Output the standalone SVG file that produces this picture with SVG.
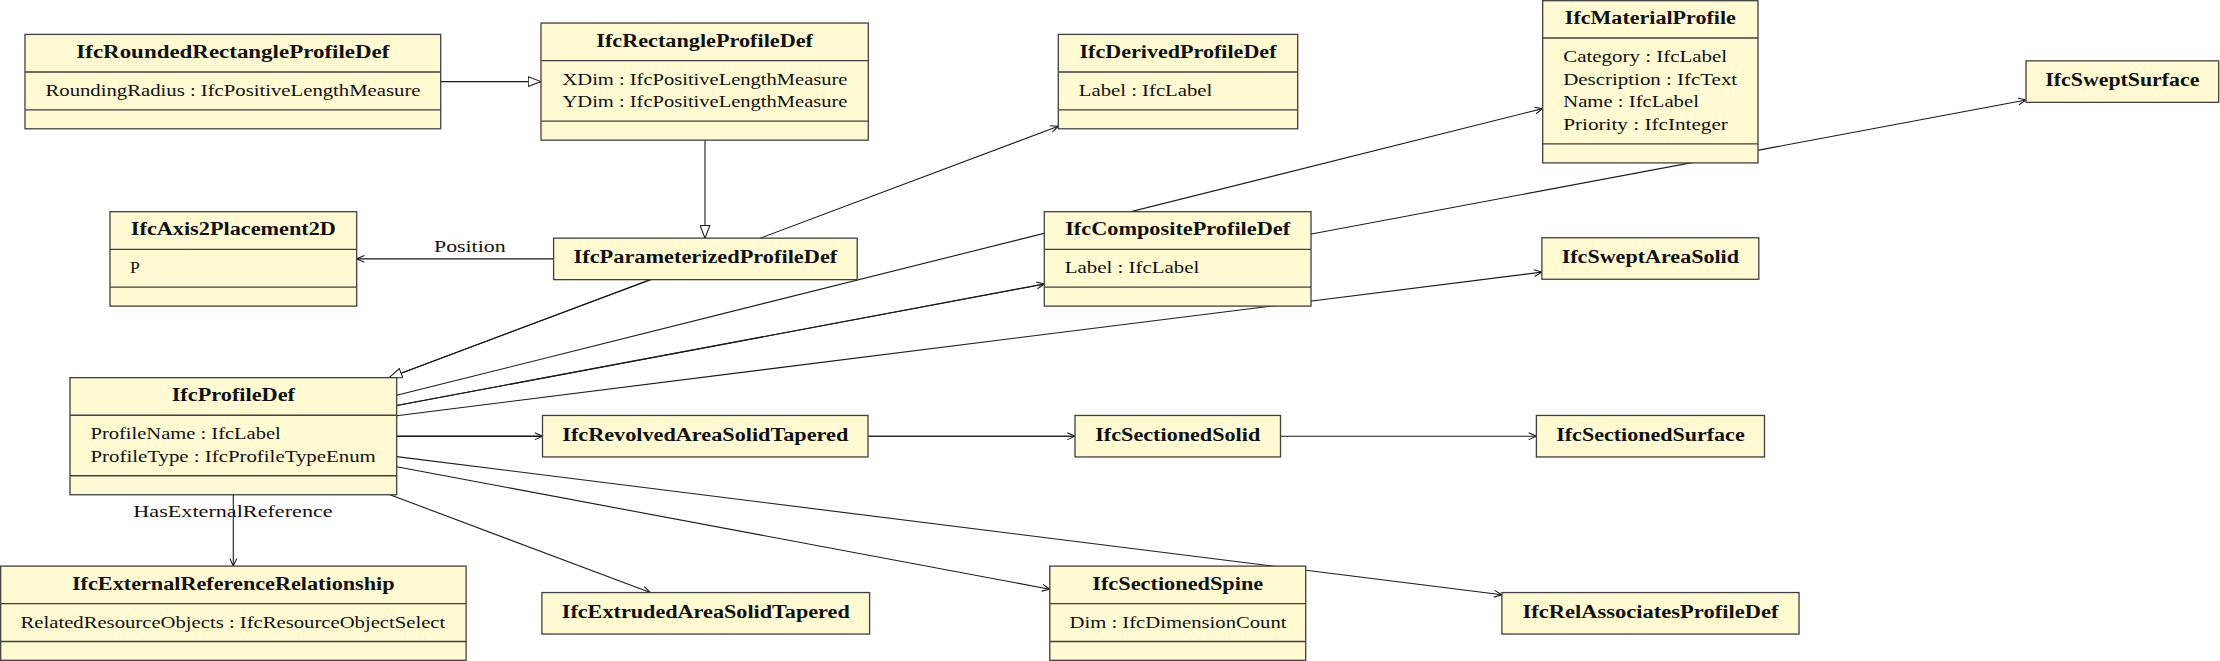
<svg xmlns="http://www.w3.org/2000/svg" width="2220" height="661" viewBox="0 0 2220 661">
<style>
.box{fill:#FFFAD2;stroke:#404040;stroke-width:1.3}
.dv{stroke:#404040;stroke-width:1.3}
.h{font-family:"Liberation Serif",serif;font-weight:bold;font-size:18.5px;text-anchor:middle;fill:#111}
.a{font-family:"Liberation Serif",serif;font-size:17.5px;fill:#111}
.lb{font-family:"Liberation Serif",serif;font-size:17.5px;fill:#111;text-anchor:middle}
.c{fill:none;stroke:#1a1a1a;stroke-width:1.1}
.o{marker-end:url(#open)}
.g{marker-end:url(#tri)}
</style>
<defs>
<marker id="open" viewBox="0 0 10 10" refX="9.6" refY="5" markerWidth="9" markerHeight="9" markerUnits="userSpaceOnUse" orient="auto">
<path d="M1,1.2 L9.6,5 L1,8.8" fill="none" stroke="#1a1a1a" stroke-width="1.2"/>
</marker>
<marker id="tri" viewBox="0 0 14 11" refX="13.4" refY="5.5" markerWidth="14" markerHeight="11" markerUnits="userSpaceOnUse" orient="auto">
<path d="M0.6,0.6 L13.4,5.5 L0.6,10.4 Z" fill="#fff" stroke="#1a1a1a" stroke-width="1.1"/>
</marker>
</defs>

<g id="connectors">
<path class="c g" d="M440.7,81.6 L541,81.6"/>
<path class="c g" d="M705,140.15 L705,238.15"/>
<path class="c o" d="M553.6,258.9 L356.7,258.9"/>
<text class="lb" x="469.8" y="251.7" textLength="71.6" lengthAdjust="spacingAndGlyphs">Position</text>
<path class="c o" d="M389.1,377.65 L1058.3,126.2"/>
<path class="c g" d="M650.8,279.65 L389.1,377.65"/>
<path class="c o" d="M396.7,395.3 L1542.7,108.6"/>
<path class="c o" d="M396.7,405.5 L1044.3,284"/>
<path class="c o" d="M396.7,405.5 L2026,100"/>
<path class="c o" d="M396.7,415.7 L1541.9,272.1"/>
<path class="c o" d="M396.7,436.2 L542.5,436.2"/>
<path class="c o" d="M396.7,436.2 L1075,436.2"/>
<path class="c o" d="M396.7,436.2 L1536.4,436.2"/>
<path class="c o" d="M396.7,466.8 L1049.8,589.2"/>
<path class="c o" d="M396.7,456.6 L1501.9,594.7"/>
<path class="c o" d="M390,494.75 L650.3,592.55"/>
<path class="c o" d="M233.3,494.75 L233.3,566.1"/>
<text class="lb" x="233" y="516.7" textLength="199.4" lengthAdjust="spacingAndGlyphs">HasExternalReference</text>
</g>

<g id="IfcRoundedRectangleProfileDef">
<rect class="box" x="25" y="34.4" width="415.7" height="94.4"/>
<line class="dv" x1="25" y1="72" x2="440.7" y2="72"/>
<line class="dv" x1="25" y1="109.8" x2="440.7" y2="109.8"/>
<text class="h" x="232.85" y="58" textLength="313" lengthAdjust="spacingAndGlyphs">IfcRoundedRectangleProfileDef</text>
<text class="a" x="45.5" y="96" textLength="375" lengthAdjust="spacingAndGlyphs">RoundingRadius : IfcPositiveLengthMeasure</text>
</g>

<g id="IfcRectangleProfileDef">
<rect class="box" x="541" y="23.05" width="327.3" height="117.1"/>
<line class="dv" x1="541" y1="60.65" x2="868.3" y2="60.65"/>
<line class="dv" x1="541" y1="121.15" x2="868.3" y2="121.15"/>
<text class="h" x="704.65" y="46.6" textLength="216.7" lengthAdjust="spacingAndGlyphs">IfcRectangleProfileDef</text>
<text class="a" x="562.5" y="84.6" textLength="285" lengthAdjust="spacingAndGlyphs">XDim : IfcPositiveLengthMeasure</text>
<text class="a" x="562.5" y="107.3" textLength="285" lengthAdjust="spacingAndGlyphs">YDim : IfcPositiveLengthMeasure</text>
</g>

<g id="IfcDerivedProfileDef">
<rect class="box" x="1058.3" y="34.4" width="239.4" height="94.4"/>
<line class="dv" x1="1058.3" y1="72" x2="1297.7" y2="72"/>
<line class="dv" x1="1058.3" y1="109.8" x2="1297.7" y2="109.8"/>
<text class="h" x="1178" y="58" textLength="197" lengthAdjust="spacingAndGlyphs">IfcDerivedProfileDef</text>
<text class="a" x="1078.8" y="96" textLength="133.5" lengthAdjust="spacingAndGlyphs">Label : IfcLabel</text>
</g>

<g id="IfcMaterialProfile">
<rect class="box" x="1542.7" y="0.7" width="215.3" height="162.2"/>
<line class="dv" x1="1542.7" y1="38" x2="1758" y2="38"/>
<line class="dv" x1="1542.7" y1="143.9" x2="1758" y2="143.9"/>
<text class="h" x="1650.35" y="24" textLength="171" lengthAdjust="spacingAndGlyphs">IfcMaterialProfile</text>
<text class="a" x="1563.2" y="62" textLength="164" lengthAdjust="spacingAndGlyphs">Category : IfcLabel</text>
<text class="a" x="1563.2" y="84.7" textLength="174" lengthAdjust="spacingAndGlyphs">Description : IfcText</text>
<text class="a" x="1563.2" y="107.4" textLength="135.7" lengthAdjust="spacingAndGlyphs">Name : IfcLabel</text>
<text class="a" x="1563.2" y="130.1" textLength="164.7" lengthAdjust="spacingAndGlyphs">Priority : IfcInteger</text>
</g>

<g id="IfcSweptSurface">
<rect class="box" x="2026" y="60.85" width="192.7" height="41.5"/>
<text class="h" x="2122.35" y="86.1" textLength="154" lengthAdjust="spacingAndGlyphs">IfcSweptSurface</text>
</g>

<g id="IfcAxis2Placement2D">
<rect class="box" x="110" y="211.7" width="246.7" height="94.4"/>
<line class="dv" x1="110" y1="249.3" x2="356.7" y2="249.3"/>
<line class="dv" x1="110" y1="287.1" x2="356.7" y2="287.1"/>
<text class="h" x="233.35" y="235.3" textLength="205" lengthAdjust="spacingAndGlyphs">IfcAxis2Placement2D</text>
<text class="a" x="130" y="273.3">P</text>
</g>

<g id="IfcParameterizedProfileDef">
<rect class="box" x="553.6" y="238.15" width="303.6" height="41.5"/>
<text class="h" x="705.4" y="263.4" textLength="263.7" lengthAdjust="spacingAndGlyphs">IfcParameterizedProfileDef</text>
</g>

<g id="IfcCompositeProfileDef">
<rect class="box" x="1044.3" y="211.7" width="266.7" height="94.4"/>
<line class="dv" x1="1044.3" y1="249.3" x2="1311" y2="249.3"/>
<line class="dv" x1="1044.3" y1="287.1" x2="1311" y2="287.1"/>
<text class="h" x="1177.65" y="235.3" textLength="225" lengthAdjust="spacingAndGlyphs">IfcCompositeProfileDef</text>
<text class="a" x="1064.8" y="273.3" textLength="134.5" lengthAdjust="spacingAndGlyphs">Label : IfcLabel</text>
</g>

<g id="IfcSweptAreaSolid">
<rect class="box" x="1541.9" y="237.75" width="216.9" height="41.5"/>
<text class="h" x="1650.35" y="263" textLength="177.3" lengthAdjust="spacingAndGlyphs">IfcSweptAreaSolid</text>
</g>

<g id="IfcProfileDef">
<rect class="box" x="70" y="377.65" width="326.7" height="117.1"/>
<line class="dv" x1="70" y1="415.25" x2="396.7" y2="415.25"/>
<line class="dv" x1="70" y1="475.75" x2="396.7" y2="475.75"/>
<text class="h" x="233.35" y="401.2" textLength="123.3" lengthAdjust="spacingAndGlyphs">IfcProfileDef</text>
<text class="a" x="90.5" y="439.2" textLength="190.3" lengthAdjust="spacingAndGlyphs">ProfileName : IfcLabel</text>
<text class="a" x="90.5" y="461.9" textLength="285.3" lengthAdjust="spacingAndGlyphs">ProfileType : IfcProfileTypeEnum</text>
</g>

<g id="IfcRevolvedAreaSolidTapered">
<rect class="box" x="542.5" y="415.45" width="325.5" height="41.5"/>
<text class="h" x="705.25" y="440.7" textLength="286" lengthAdjust="spacingAndGlyphs">IfcRevolvedAreaSolidTapered</text>
</g>

<g id="IfcSectionedSolid">
<rect class="box" x="1075" y="415.45" width="205.5" height="41.5"/>
<text class="h" x="1177.75" y="440.7" textLength="165" lengthAdjust="spacingAndGlyphs">IfcSectionedSolid</text>
</g>

<g id="IfcSectionedSurface">
<rect class="box" x="1536.4" y="415.45" width="228.1" height="41.5"/>
<text class="h" x="1650.45" y="440.7" textLength="188.5" lengthAdjust="spacingAndGlyphs">IfcSectionedSurface</text>
</g>

<g id="IfcExternalReferenceRelationship">
<rect class="box" x="0.7" y="566.1" width="465.4" height="94.2"/>
<line class="dv" x1="0.7" y1="603.7" x2="466.1" y2="603.7"/>
<line class="dv" x1="0.7" y1="641.5" x2="466.1" y2="641.5"/>
<text class="h" x="233.3" y="589.7" textLength="322.7" lengthAdjust="spacingAndGlyphs">IfcExternalReferenceRelationship</text>
<text class="a" x="20.5" y="627.7" textLength="424.8" lengthAdjust="spacingAndGlyphs">RelatedResourceObjects : IfcResourceObjectSelect</text>
</g>

<g id="IfcExtrudedAreaSolidTapered">
<rect class="box" x="541.9" y="592.55" width="327.7" height="41.5"/>
<text class="h" x="705.75" y="617.8" textLength="288" lengthAdjust="spacingAndGlyphs">IfcExtrudedAreaSolidTapered</text>
</g>

<g id="IfcSectionedSpine">
<rect class="box" x="1049.8" y="566.1" width="255.9" height="94.2"/>
<line class="dv" x1="1049.8" y1="603.7" x2="1305.7" y2="603.7"/>
<line class="dv" x1="1049.8" y1="641.5" x2="1305.7" y2="641.5"/>
<text class="h" x="1177.75" y="589.7" textLength="171" lengthAdjust="spacingAndGlyphs">IfcSectionedSpine</text>
<text class="a" x="1069.5" y="627.7" textLength="217" lengthAdjust="spacingAndGlyphs">Dim : IfcDimensionCount</text>
</g>

<g id="IfcRelAssociatesProfileDef">
<rect class="box" x="1501.9" y="592.55" width="297.1" height="41.5"/>
<text class="h" x="1650.45" y="617.8" textLength="256" lengthAdjust="spacingAndGlyphs">IfcRelAssociatesProfileDef</text>
</g>
</svg>
